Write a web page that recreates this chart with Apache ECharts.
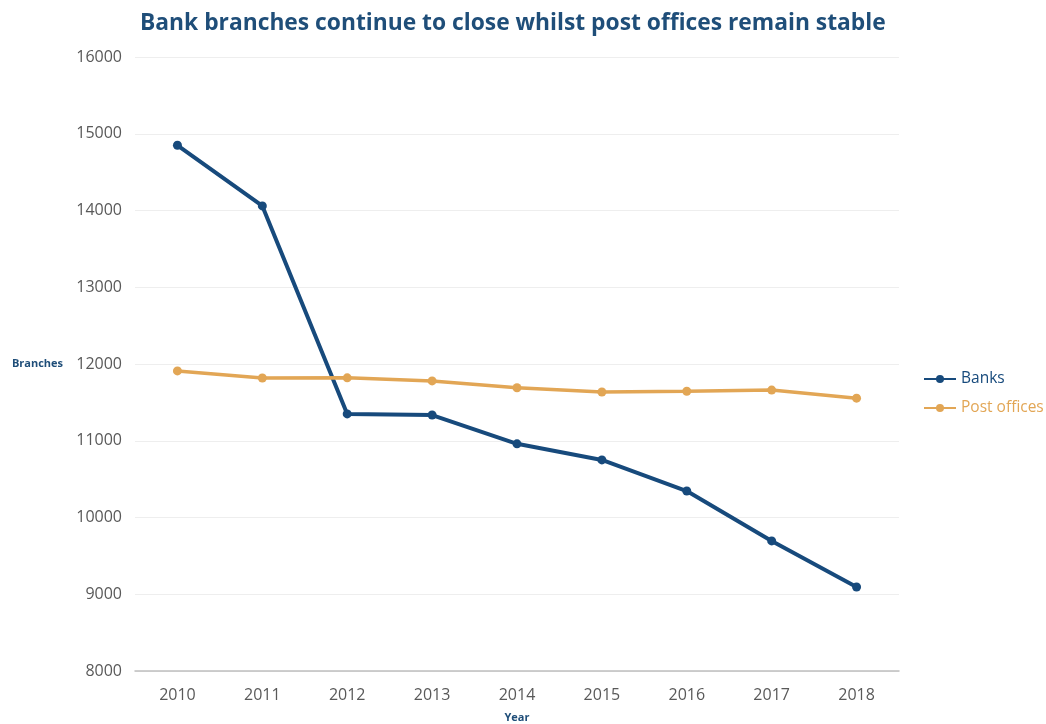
<!DOCTYPE html>
<html>
<head>
<meta charset="utf-8">
<script src="https://cdn.jsdelivr.net/npm/echarts@6/dist/echarts.min.js"></script>
<style>html,body{margin:0;padding:0;background:#fff;}#chart{width:1046px;height:724px;}</style>
</head>
<body>
<div id="chart"></div>
<script>
const years = ['2010','2011','2012','2013','2014','2015','2016','2017','2018'];
const banks = [14850, 14060, 11350, 11335, 10960, 10750, 10345, 9695, 9095];
const postOffices = [11910, 11818, 11820, 11780, 11690, 11635, 11645, 11660, 11555];
const yTicks = [8000, 9000, 10000, 11000, 12000, 13000, 14000, 15000, 16000];

const bankColor = '#174A7C';
const postColor = '#E2A655';
const font = '"Open Sans", "Noto Sans", sans-serif';

const chart = echarts.init(document.getElementById('chart'));
chart.setOption({
  animation: false,
  backgroundColor: '#ffffff',
  title: {
    text: 'Bank branches continue to close whilst post offices remain stable',
    left: 135,
    top: 7,
    textStyle: { fontFamily: font, fontSize: 22.8, fontWeight: 'bold', color: '#1F4E79' }
  },
  grid: { left: 135, right: 147, top: 57, bottom: 53, outerBoundsMode: 'none', containLabel: false },
  legend: {
    orient: 'vertical',
    left: 918,
    top: 366,
    itemGap: 13,
    itemWidth: 32,
    itemHeight: 10,
    textStyle: { fontFamily: font, fontSize: 15.5 },
    data: [
      { name: 'Banks', textStyle: { color: bankColor } },
      { name: 'Post offices', textStyle: { color: postColor } }
    ]
  },
  xAxis: {
    type: 'category',
    data: years,
    boundaryGap: true,
    name: 'Year',
    nameLocation: 'middle',
    nameGap: 41,
    nameTextStyle: { fontFamily: font, fontSize: 11, fontWeight: 'bold', color: '#1F4E79' },
    axisLine: { show: true, lineStyle: { color: '#BFBFBF', width: 1.5 } },
    axisTick: { show: false },
    axisLabel: { fontFamily: font, fontSize: 16, color: '#595959', margin: 16 },
    splitLine: { show: false }
  },
  yAxis: {
    type: 'value',
    min: yTicks[0],
    max: yTicks[yTicks.length - 1],
    interval: 1000,
    name: 'Branches',
    nameLocation: 'middle',
    nameRotate: 0,
    nameGap: 72,
    nameTextStyle: { fontFamily: font, fontSize: 11, fontWeight: 'bold', color: '#1F4E79' },
    axisLine: { show: false },
    axisTick: { show: false },
    axisLabel: { fontFamily: font, fontSize: 16, color: '#595959', margin: 13, formatter: function (v) { return String(v); } },
    splitLine: { show: true, lineStyle: { color: '#EEEEEE', width: 1 } }
  },
  series: [
    {
      name: 'Banks',
      type: 'line',
      data: banks,
      color: bankColor,
      symbol: 'circle',
      symbolSize: 9,
      lineStyle: { width: 4, color: bankColor },
      itemStyle: { color: bankColor }
    },
    {
      name: 'Post offices',
      type: 'line',
      data: postOffices,
      color: postColor,
      symbol: 'circle',
      symbolSize: 9,
      lineStyle: { width: 3.5, color: postColor },
      itemStyle: { color: postColor }
    }
  ]
});
</script>
</body>
</html>
